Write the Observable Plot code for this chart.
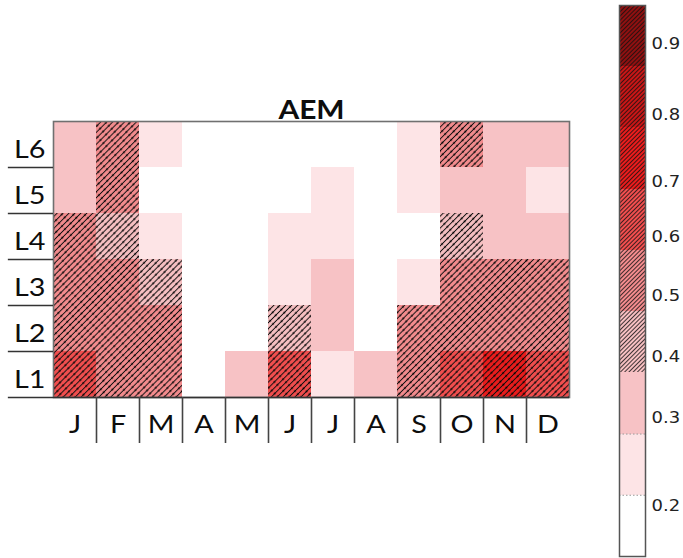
<!DOCTYPE html>
<html>
<head>
<meta charset="utf-8">
<script src="https://cdn.jsdelivr.net/npm/d3@7"></script>
<script src="https://cdn.jsdelivr.net/npm/@observablehq/plot@0.6"></script>
<style>
  html, body { margin: 0; padding: 0; background: #fff; }
  #wrap { position: relative; width: 683px; height: 558px; overflow: hidden; }
  #main { position: absolute; left: 0; top: 0; }
  #bar { position: absolute; left: 600px; top: 0; }
</style>
</head>
<body>
<div id="wrap"><div id="main"></div><div id="bar"></div></div>
<script>
// ---- data ----
const months = ["Jan","Feb","Mar","Apr","May","Jun","Jul","Aug","Sep","Oct","Nov","Dec"];
const monthLetters = ["J","F","M","A","M","J","J","A","S","O","N","D"];
const levels = ["L1","L2","L3","L4","L5","L6"];

const valuesL1 = [0.62, 0.53, 0.52, 0.18, 0.31, 0.64, 0.24, 0.30, 0.52, 0.63, 0.70, 0.61];
const valuesL2 = [0.55, 0.54, 0.50, 0.14, 0.19, 0.43, 0.33, 0.20, 0.51, 0.55, 0.56, 0.54];
const valuesL3 = [0.52, 0.50, 0.41, 0.16, 0.17, 0.23, 0.34, 0.18, 0.26, 0.54, 0.53, 0.52];
const valuesL4 = [0.51, 0.42, 0.25, 0.13, 0.15, 0.24, 0.25, 0.19, 0.20, 0.40, 0.32, 0.30];
const valuesL5 = [0.32, 0.53, 0.18, 0.11, 0.12, 0.19, 0.24, 0.17, 0.26, 0.30, 0.31, 0.23];
const valuesL6 = [0.31, 0.52, 0.24, 0.12, 0.10, 0.14, 0.18, 0.15, 0.25, 0.50, 0.33, 0.32];

const classEdges = [0.1, 0.215, 0.27, 0.37, 0.47, 0.57, 0.685, 0.775, 0.875, 0.935];
const classColors = ["#ffffff","#fde4e6","#f7c2c5","#f7c0c2","#f48c8e","#f24e4e","#ec1c1c","#c91616","#901010"];
const hatchFrom = 0.37;
const legendTicks = [0.2, 0.3, 0.4, 0.5, 0.6, 0.7, 0.8, 0.9];
const titleText = "AEM";

// ---- derived table ----
const valueRows = [valuesL1, valuesL2, valuesL3, valuesL4, valuesL5, valuesL6];
const cells = [];
valueRows.forEach((row, li) => row.forEach((v, mi) => cells.push({month: months[mi], level: levels[li], mi, li, value: v})));
const hatched = cells.filter(d => d.value >= hatchFrom);
const bands = classColors.map((c, i) => ({i, lo: classEdges[i], hi: classEdges[i + 1], mid: (classEdges[i] + classEdges[i + 1]) / 2}));
const toIndex = d3.scaleLinear(classEdges, d3.range(classEdges.length));

const colorScale = {type: "threshold", domain: classEdges.slice(1, -1), range: classColors};

function addPattern(svg, id, w, h, sw, dotR) {
  const defs = d3.select(svg).insert("defs", ":first-child");
  const p = defs.append("pattern")
    .attr("id", id).attr("patternUnits", "userSpaceOnUse")
    .attr("width", w).attr("height", h)
    .attr("patternTransform", "rotate(45)");
  p.append("line").attr("x1", w / 2).attr("x2", w / 2).attr("y1", 0).attr("y2", h)
    .attr("stroke", "#111").attr("stroke-width", sw);
  if (dotR) p.append("circle").attr("cx", w / 2).attr("cy", h / 2).attr("r", dotR).attr("fill", "#000");
}
function stretchText(svg, k) {
  d3.select(svg).selectAll("text").each(function () {
    const t = this.getAttribute("transform");
    if (t && t.startsWith("translate")) this.setAttribute("transform", t + ` scale(${k},1)`);
  });
}

// ---- main heatmap ----
const main = Plot.plot({
  width: 600, height: 450,
  marginLeft: 53, marginRight: 31, marginTop: 121, marginBottom: 53,
  x: {domain: [0, 12], axis: null},
  y: {domain: [0, 6], axis: null},
  color: colorScale,
  style: {fontFamily: "Lato, sans-serif", color: "#0d0d0d", background: "white", overflow: "visible"},
  marks: [
    Plot.rect(cells, {x1: d => d.mi, x2: d => d.mi + 1, y1: d => d.li, y2: d => d.li + 1, fill: "value", shapeRendering: "crispEdges"}),
    Plot.rect(hatched, {x1: d => d.mi, x2: d => d.mi + 1, y1: d => d.li, y2: d => d.li + 1, fill: "url(#hatchMain)", shapeRendering: "crispEdges"}),
    Plot.frame({stroke: "#707070", strokeWidth: 1.6}),
    Plot.ruleY(d3.range(0, 6), {y: d => d, x1: () => -1.05, x2: () => 0, stroke: "#333", strokeWidth: 1.6}),
    Plot.ruleY([0], {y: d => d, stroke: "#333", strokeWidth: 1.6}),
    Plot.ruleX(d3.range(1, 12), {x: d => d, y1: () => 0, y2: () => -1, stroke: "#444", strokeWidth: 1.6}),
    Plot.axisX(d3.range(12).map(i => i + 0.5), {tickSize: 0, tickPadding: 18, fontSize: 25, label: null, tickFormat: d => monthLetters[Math.floor(d)]}),
    Plot.axisY(d3.range(6).map(i => i + 0.5), {tickSize: 0, tickPadding: 8, fontSize: 25, dy: 5, label: null, tickFormat: d => levels[Math.floor(d)]}),
    Plot.text([titleText], {frameAnchor: "top", dy: -21, fontSize: 26, fontWeight: "bold", fill: "#0d0d0d"})
  ]
});
addPattern(main, "hatchMain", 4.2, 8, 1.0, 1.0);
stretchText(main, 1.15);
document.getElementById("main").appendChild(main);

// ---- colour bar ----
const bar = Plot.plot({
  width: 83, height: 558,
  marginLeft: 19, marginRight: 38, marginTop: 5, marginBottom: 2,
  x: {domain: [0, 1], axis: null},
  y: {domain: [0, classEdges.length - 1], axis: null},
  color: colorScale,
  style: {fontFamily: "'DejaVu Sans', sans-serif", color: "#222", background: "white", overflow: "visible"},
  marks: [
    Plot.rect(bands, {x1: () => 0, x2: () => 1, y1: d => d.i, y2: d => d.i + 1, fill: "mid", shapeRendering: "crispEdges"}),
    Plot.rect(bands.filter(b => b.lo >= hatchFrom), {x1: () => 0, x2: () => 1, y1: d => d.i, y2: d => d.i + 1, fill: "url(#hatchBar)", shapeRendering: "crispEdges"}),
    Plot.ruleY([1, 2], {y: d => d, x1: () => 0, x2: () => 1, stroke: "#999", strokeWidth: 1, strokeDasharray: "1.5 2"}),
    Plot.frame({stroke: "#555", strokeWidth: 1.5}),
    Plot.axisY(legendTicks.map(v => toIndex(v)), {anchor: "right", tickSize: 0, tickPadding: 6, dy: 3, fontSize: 15, label: null, tickFormat: d => toIndex.invert(d).toFixed(1)})
  ]
});
addPattern(bar, "hatchBar", 3.0, 6, 0.8, 0);
stretchText(bar, 1.2);
document.getElementById("bar").appendChild(bar);
</script>
</body>
</html>
